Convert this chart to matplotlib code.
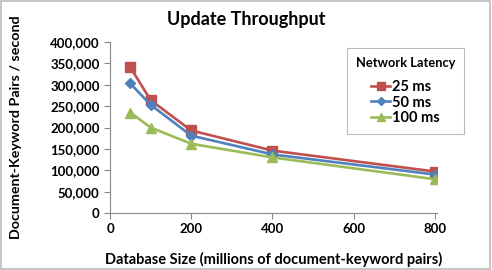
import matplotlib.pyplot as plt
from matplotlib.ticker import FuncFormatter

# database size (millions of document-keyword pairs)
db_size = [50, 100, 200, 400, 800]
# update throughput (pairs / second) per network latency
lat_25 = [341000, 264000, 193000, 146000, 97000]
lat_50 = [303000, 253000, 181000, 137000, 90000]
lat_100 = [235000, 200000, 162000, 130000, 79000]

plt.rcParams['font.family'] = ['Lato', 'DejaVu Sans']
plt.rcParams['font.weight'] = 'bold'

fig = plt.figure(figsize=(4.92, 2.70), dpi=100)
ax = fig.add_axes([0.2236, 0.2111, 0.6646, 0.6333])

ax.plot(db_size, lat_25, color='#C0504D', marker='s', markersize=7, lw=1.9, label='25 ms')
ax.plot(db_size, lat_50, color='#4F81BD', marker='D', markersize=5.5, lw=1.9, label='50 ms')
ax.plot(db_size, lat_100, color='#9BBB59', marker='^', markersize=7, lw=1.9, label='100 ms')

ax.set_xlim(0, 805)
ax.set_ylim(0, 400000)
ax.set_xticks([0, 200, 400, 600, 800])
ax.set_yticks(range(0, 400001, 50000))
ax.yaxis.set_major_formatter(FuncFormatter(lambda v, p: f'{int(v):,}'))

for s in ['top', 'right']:
    ax.spines[s].set_visible(False)
for s in ['left', 'bottom']:
    ax.spines[s].set_color('#888888')
ax.tick_params(colors='#888888', labelcolor='black', labelsize=9.5, length=4, width=0.8)
for lbl in ax.get_xticklabels() + ax.get_yticklabels():
    lbl.set_fontweight('bold')

fig.text(0.5, 1 - 20 / 270, 'Update Throughput', ha='center', va='center',
         fontsize=13, fontweight='bold')
ax.set_xlabel('Database Size (millions of document-keyword pairs)', fontsize=10.5, fontweight='bold')
ax.xaxis.set_label_coords(0.5, -0.225)
ax.set_ylabel('Document-Keyword Pairs / second', fontsize=10.3, fontweight='bold')
ax.yaxis.set_label_coords(-0.27, 0.5)

leg = ax.legend(title='Network Latency', loc='upper right', bbox_to_anchor=(1.104, 1.006),
                fontsize=10.5, title_fontproperties={'weight': 'bold', 'size': 9.3},
                frameon=True, fancybox=False, handlelength=1.3, handletextpad=0.1,
                borderpad=0.6, labelspacing=0.1, markerscale=0.8)
leg.get_frame().set_edgecolor('#AAAAAA')
leg.get_frame().set_linewidth(0.8)
leg._legend_box.sep = 8
for t in leg.get_texts():
    t.set_fontweight('bold')

fig.patches.append(plt.Rectangle((0.002, 0.004), 0.994, 0.992, transform=fig.transFigure,
                                 fill=False, edgecolor='#BBBBBB', lw=1.2))

fig.savefig('out.png', dpi=100)
